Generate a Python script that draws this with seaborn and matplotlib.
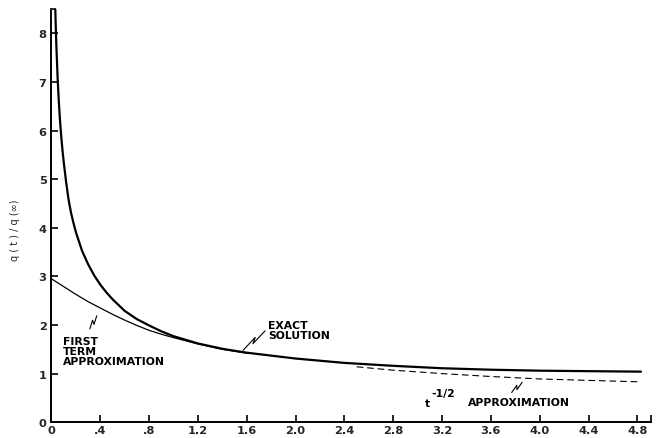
import numpy as np
import pandas as pd
import matplotlib
matplotlib.use("Agg")
import matplotlib.pyplot as plt
import seaborn as sns

# Dimensionless time and q(t)/q(inf) values
exact_t = [0.03, 0.035, 0.04, 0.05, 0.06, 0.07, 0.08, 0.09, 0.10, 0.12, 0.14,
           0.16, 0.18, 0.20, 0.25, 0.30, 0.35, 0.40, 0.45, 0.50, 0.60, 0.70,
           0.80, 0.90, 1.00, 1.20, 1.40, 1.60, 1.80, 2.00, 2.40, 2.80, 3.20,
           3.60, 4.00, 4.40, 4.83]
exact_q = [8.60, 8.15, 7.75, 7.10, 6.60, 6.20, 5.88, 5.60, 5.36, 4.94, 4.58,
           4.31, 4.10, 3.91, 3.53, 3.25, 3.02, 2.83, 2.67, 2.53, 2.29, 2.12,
           1.99, 1.87, 1.77, 1.62, 1.51, 1.43, 1.37, 1.31, 1.22, 1.16, 1.11,
           1.08, 1.06, 1.05, 1.04]

first_t = [0.0, 0.1, 0.2, 0.3, 0.4, 0.5, 0.6, 0.7, 0.8, 0.9, 1.0, 1.2, 1.4,
           1.6]
first_q = [2.95, 2.79, 2.63, 2.48, 2.35, 2.22, 2.10, 1.99, 1.89, 1.81, 1.74,
           1.61, 1.50, 1.42]

half_t = [2.50, 2.80, 3.20, 3.60, 4.00, 4.40, 4.83]
half_q = [1.14, 1.07, 1.00, 0.94, 0.89, 0.86, 0.83]

x_ticks = [0, 0.4, 0.8, 1.2, 1.6, 2.0, 2.4, 2.8, 3.2, 3.6, 4.0, 4.4, 4.8]
x_labels = ["0", ".4", ".8", "1.2", "1.6", "2.0", "2.4", "2.8", "3.2",
            "3.6", "4.0", "4.4", "4.8"]
y_ticks = [0, 1, 2, 3, 4, 5, 6, 7, 8]

sns.set_theme(style="ticks")
plt.rcParams["font.family"] = ["DejaVu Sans"]

fig = plt.figure(figsize=(6.6, 4.39), dpi=100)
ax = fig.add_axes([0.078, 0.036, 0.908, 0.941])

exact_df = pd.DataFrame({"t": exact_t, "q": exact_q})
first_df = pd.DataFrame({"t": first_t, "q": first_q})
half_df = pd.DataFrame({"t": half_t, "q": half_q})

sns.lineplot(data=first_df, x="t", y="q", ax=ax, color="black", lw=0.9,
             sort=False, zorder=2)
sns.lineplot(data=half_df, x="t", y="q", ax=ax, color="black", lw=0.8,
             sort=False, zorder=2)
ax.lines[-1].set_dashes([6, 3.5])
sns.lineplot(data=exact_df, x="t", y="q", ax=ax, color="black", lw=1.6,
             sort=False, zorder=3)
for ln in ax.lines:
    ln.set_solid_joinstyle("round")

ax.set_xlim(0, 4.91)
ax.set_ylim(0, 8.5)

ax.set_xticks(x_ticks)
ax.set_xticklabels(x_labels)
ax.set_yticks(y_ticks)
ax.set_xticks([4.91], minor=True)
ax.tick_params(axis="both", which="major", direction="in", length=5,
               width=1.2, color="black", labelsize=8.2)
ax.tick_params(axis="x", which="major", pad=2.2)
ax.tick_params(axis="y", which="major", pad=3.5)
ax.tick_params(axis="x", which="minor", direction="in", length=5, width=1.2,
               color="black")
for lab in ax.get_xticklabels() + ax.get_yticklabels():
    lab.set_fontweight("bold")

for side in ["left", "bottom"]:
    ax.spines[side].set_linewidth(1.4)
    ax.spines[side].set_color("black")
ax.spines["right"].set_visible(False)
ax.spines["top"].set_visible(True)
ax.spines["top"].set_bounds(0, exact_t[0])
ax.spines["top"].set_linewidth(1.4)

ax.set_xlabel("")
ax.set_ylabel("q ( t ) / q (∞)", fontsize=7)
ax.yaxis.set_label_coords(-0.052, 0.467)


def zigzag(p0, p1, kink=1.6):
    """Draw a small lightning-bolt leader between two data points."""
    fig.canvas.draw()
    a = ax.transData.transform(p0)
    b = ax.transData.transform(p1)
    d = b - a
    n = np.array([-d[1], d[0]]) / np.hypot(*d)
    pts = np.array([a, a + 0.6 * d + kink * n, a + 0.4 * d - kink * n, b])
    data = ax.transData.inverted().transform(pts)
    ax.plot(data[:, 0], data[:, 1], color="black", lw=0.8, zorder=4)


txt = dict(color="black", fontsize=7.8, fontweight="bold", ha="left",
           va="top", linespacing=1.0)
ax.text(0.093, 1.78, "FIRST\nTERM\nAPPROXIMATION", **txt)
ax.text(1.775, 2.10, "EXACT\nSOLUTION", **txt)
ax.text(3.06, 0.50, "t", **txt)
ax.text(3.115, 0.70, "-1/2", **txt)
ax.text(3.415, 0.52, "APPROXIMATION", **txt)

zigzag((0.314, 1.92), (0.371, 2.19))
zigzag((1.57, 1.48), (1.75, 1.88))
zigzag((3.77, 0.61), (3.856, 0.82))

fig.savefig("out.png", dpi=100)
